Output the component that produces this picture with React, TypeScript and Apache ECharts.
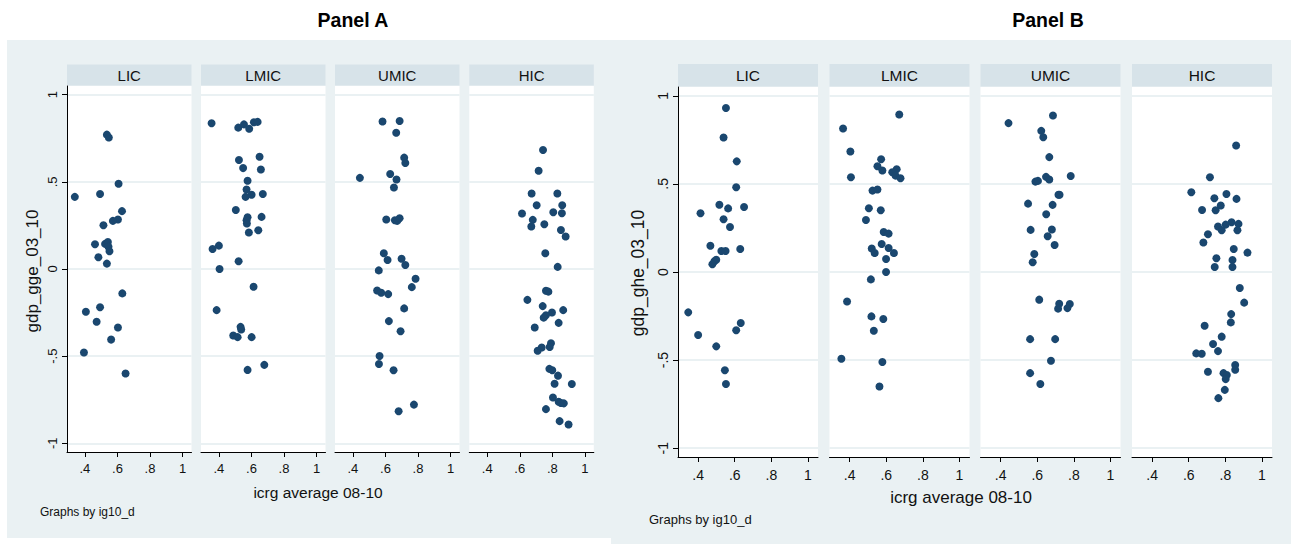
import React, { useEffect, useRef } from "react";
import * as echarts from "echarts";

// ---------- data ----------
const groups = ["LIC", "LMIC", "UMIC", "HIC"];
const xTicks = [0.4, 0.6, 0.8, 1];
const yTicks = [-1, -0.5, 0, 0.5, 1];
const panelTitles = ["Panel A", "Panel B"];
const yTitles = ["gdp_gge_03_10", "gdp_ghe_03_10"];
const xTitle = "icrg average 08-10";
const note = "Graphs by ig10_d";

// Panel A : gdp_gge_03_10 vs icrg average 08-10
const gge_LIC = [
  [0.535, 0.771], [0.547, 0.755], [0.607, 0.489], [0.338, 0.414], [0.493, 0.43],
  [0.628, 0.332], [0.603, 0.284], [0.572, 0.276], [0.514, 0.251], [0.462, 0.142],
  [0.524, 0.144], [0.541, 0.155], [0.545, 0.128], [0.551, 0.102], [0.483, 0.067],
  [0.535, 0.031], [0.63, -0.14], [0.493, -0.219], [0.406, -0.245], [0.472, -0.303],
  [0.603, -0.336], [0.561, -0.405], [0.394, -0.479], [0.65, -0.6],
];
const gge_LMIC = [
  [0.355, 0.836], [0.519, 0.811], [0.554, 0.83], [0.586, 0.805], [0.615, 0.842],
  [0.638, 0.844], [0.523, 0.625], [0.65, 0.644], [0.549, 0.579], [0.658, 0.571],
  [0.576, 0.506], [0.57, 0.456], [0.601, 0.426], [0.564, 0.414], [0.67, 0.43],
  [0.504, 0.339], [0.576, 0.297], [0.662, 0.299], [0.57, 0.28], [0.572, 0.261],
  [0.642, 0.222], [0.584, 0.209], [0.4, 0.134], [0.361, 0.115], [0.521, 0.044],
  [0.404, 0.0], [0.613, -0.102], [0.386, -0.236], [0.533, -0.332], [0.537, -0.347],
  [0.488, -0.382], [0.515, -0.391], [0.601, -0.391], [0.679, -0.55], [0.576, -0.579],
];
const gge_UMIC = [
  [0.582, 0.846], [0.687, 0.849], [0.666, 0.782], [0.715, 0.639], [0.722, 0.608],
  [0.443, 0.523], [0.629, 0.545], [0.668, 0.514], [0.652, 0.468], [0.605, 0.284],
  [0.658, 0.28], [0.672, 0.276], [0.687, 0.291], [0.59, 0.09], [0.613, 0.052],
  [0.699, 0.059], [0.722, 0.023], [0.559, -0.008], [0.785, -0.056], [0.762, -0.104],
  [0.549, -0.123], [0.574, -0.136], [0.617, -0.144], [0.715, -0.226], [0.621, -0.299],
  [0.693, -0.357], [0.564, -0.499], [0.56, -0.545], [0.65, -0.581], [0.775, -0.778],
  [0.681, -0.816],
];
const gge_HIC = [
  [0.743, 0.683], [0.716, 0.564], [0.673, 0.433], [0.831, 0.433], [0.704, 0.366],
  [0.861, 0.366], [0.614, 0.318], [0.806, 0.326], [0.859, 0.32], [0.68, 0.282],
  [0.671, 0.244], [0.751, 0.257], [0.853, 0.224], [0.882, 0.186], [0.757, 0.09],
  [0.833, 0.012], [0.761, -0.125], [0.776, -0.13], [0.647, -0.177], [0.741, -0.213],
  [0.867, -0.236], [0.798, -0.25], [0.761, -0.265], [0.747, -0.279], [0.839, -0.309],
  [0.692, -0.336], [0.792, -0.426], [0.784, -0.448], [0.735, -0.45], [0.71, -0.469],
  [0.782, -0.573], [0.8, -0.581], [0.835, -0.612], [0.814, -0.658], [0.92, -0.66],
  [0.804, -0.737], [0.839, -0.762], [0.853, -0.769], [0.871, -0.771], [0.761, -0.804],
  [0.845, -0.873], [0.9, -0.892],
];

// Panel B : gdp_ghe_03_10 vs icrg average 08-10
const ghe_LIC = [
  [0.552, 0.931], [0.539, 0.763], [0.611, 0.628], [0.608, 0.481], [0.516, 0.382],
  [0.564, 0.361], [0.651, 0.369], [0.413, 0.333], [0.539, 0.299], [0.574, 0.255],
  [0.467, 0.149], [0.527, 0.119], [0.55, 0.119], [0.63, 0.131], [0.499, 0.07],
  [0.489, 0.061], [0.478, 0.044], [0.346, -0.229], [0.633, -0.289], [0.608, -0.331],
  [0.4, -0.358], [0.499, -0.422], [0.546, -0.558], [0.552, -0.636],
];
const ghe_LMIC = [
  [0.671, 0.894], [0.364, 0.814], [0.404, 0.684], [0.572, 0.64], [0.552, 0.6],
  [0.579, 0.576], [0.657, 0.583], [0.633, 0.566], [0.651, 0.547], [0.678, 0.532],
  [0.407, 0.538], [0.525, 0.462], [0.552, 0.468], [0.505, 0.362], [0.57, 0.35],
  [0.489, 0.295], [0.586, 0.227], [0.613, 0.218], [0.575, 0.159], [0.521, 0.133],
  [0.537, 0.108], [0.613, 0.136], [0.642, 0.108], [0.599, 0.074], [0.599, 0.0],
  [0.516, -0.042], [0.386, -0.167], [0.519, -0.252], [0.584, -0.267], [0.532, -0.333],
  [0.355, -0.492], [0.579, -0.511], [0.563, -0.65],
];
const ghe_UMIC = [
  [0.686, 0.888], [0.443, 0.845], [0.622, 0.801], [0.633, 0.765], [0.666, 0.652],
  [0.783, 0.545], [0.648, 0.54], [0.666, 0.525], [0.59, 0.513], [0.604, 0.517],
  [0.716, 0.438], [0.722, 0.438], [0.55, 0.388], [0.684, 0.381], [0.649, 0.328],
  [0.564, 0.239], [0.68, 0.241], [0.657, 0.203], [0.695, 0.153], [0.584, 0.102],
  [0.575, 0.055], [0.611, -0.157], [0.72, -0.18], [0.714, -0.208], [0.778, -0.182],
  [0.765, -0.205], [0.561, -0.381], [0.698, -0.381], [0.675, -0.504], [0.561, -0.574],
  [0.617, -0.636],
];
const ghe_HIC = [
  [0.859, 0.718], [0.716, 0.538], [0.614, 0.453], [0.806, 0.443], [0.74, 0.419],
  [0.861, 0.415], [0.775, 0.377], [0.673, 0.352], [0.747, 0.35], [0.834, 0.282],
  [0.802, 0.269], [0.76, 0.258], [0.872, 0.273], [0.78, 0.237], [0.866, 0.237],
  [0.705, 0.214], [0.68, 0.167], [0.846, 0.131], [0.921, 0.11], [0.751, 0.078],
  [0.742, 0.028], [0.839, 0.068], [0.839, 0.028], [0.879, -0.091], [0.903, -0.174],
  [0.832, -0.239], [0.83, -0.286], [0.687, -0.305], [0.78, -0.367], [0.733, -0.409],
  [0.76, -0.449], [0.641, -0.462], [0.671, -0.464], [0.854, -0.528], [0.854, -0.555],
  [0.705, -0.566], [0.79, -0.574], [0.808, -0.585], [0.802, -0.608], [0.797, -0.669],
  [0.762, -0.716],
];

const panelData = [
  [gge_LIC, gge_LMIC, gge_UMIC, gge_HIC],
  [ghe_LIC, ghe_LMIC, ghe_UMIC, ghe_HIC],
];

// ---------- layout / style ----------
const FONT = '"Liberation Sans", Arial, Helvetica, sans-serif';
const BG = "#eaf1f3";
const STRIP = "#d7e3e9";
const GRIDLINE = "#e3ecef";
const MARKER = "#1a476f";
const X_MIN = 0.29;
const X_MAX = 1.055;
const Y_MIN = -1.05;
const Y_MAX = 1.05;

const layouts = [
  {
    lefts: [67, 201, 335, 469.3], width: 124.5, top: 86, height: 366,
    stripTop: 64.5, stripH: 21, tickFont: 13, stripFont: 15,
    xLabelMargin: 10, yLabelMargin: 8,
    xTitle: { x: 318, y: 492, size: 15.5 },
    yTitle: { x: 32, y: 271, size: 17 },
    note: { x: 40, y: 512, size: 12 },
    title: { x: 353, y: 20 },
    bg: { x: 7, y: 40, w: 604, h: 498 },
  },
  {
    lefts: [678, 829.5, 980.5, 1132], width: 140, top: 87, height: 370,
    stripTop: 64, stripH: 22.5, tickFont: 14, stripFont: 15.5,
    xLabelMargin: 11, yLabelMargin: 8,
    xTitle: { x: 961, y: 497, size: 17 },
    yTitle: { x: 638, y: 273, size: 17.5 },
    note: { x: 649, y: 519, size: 13 },
    title: { x: 1048, y: 20 },
    bg: { x: 611, y: 40, w: 680, h: 504 },
  },
];

const fmt = (v: number) => {
  if (Math.abs(v) < 1e-9) return "0";
  const s = String(Math.round(v * 10) / 10);
  return s.replace("0.", ".");
};

export default function App() {
  const ref = useRef<HTMLDivElement>(null);

  useEffect(() => {
    if (!ref.current) return;
    const chart = echarts.init(ref.current, undefined, { renderer: "svg" });

    const grids: any[] = [];
    const xAxes: any[] = [];
    const yAxes: any[] = [];
    const series: any[] = [];
    const graphics: any[] = [];

    layouts.forEach((L, p) => {
      graphics.push({
        type: "rect", z: -100, silent: true,
        shape: { x: L.bg.x, y: L.bg.y, width: L.bg.w, height: L.bg.h },
        style: { fill: BG },
      });
      graphics.push({
        type: "text", x: L.title.x, y: L.title.y, silent: true,
        style: {
          text: panelTitles[p], font: `bold 19.5px ${FONT}`, fill: "#000",
          align: "center", verticalAlign: "middle",
        },
      });
      graphics.push({
        type: "text", x: L.xTitle.x, y: L.xTitle.y, silent: true,
        style: {
          text: xTitle, font: `${L.xTitle.size}px ${FONT}`, fill: "#111",
          align: "center", verticalAlign: "middle",
        },
      });
      graphics.push({
        type: "text", x: L.yTitle.x, y: L.yTitle.y, rotation: Math.PI / 2, silent: true,
        style: {
          text: yTitles[p], font: `${L.yTitle.size}px ${FONT}`, fill: "#111",
          align: "center", verticalAlign: "middle",
        },
      });
      graphics.push({
        type: "text", x: L.note.x, y: L.note.y, silent: true,
        style: {
          text: note, font: `${L.note.size}px ${FONT}`, fill: "#111",
          align: "left", verticalAlign: "middle",
        },
      });

      groups.forEach((g, i) => {
        const k = p * 4 + i;
        const left = L.lefts[i];
        graphics.push({
          type: "rect", z: -50, silent: true,
          shape: { x: left, y: L.stripTop, width: L.width, height: L.stripH },
          style: { fill: STRIP },
        });
        graphics.push({
          type: "text", x: left + L.width / 2, y: L.stripTop + L.stripH / 2 + 0.5, silent: true,
          style: {
            text: g, font: `${L.stripFont}px ${FONT}`, fill: "#111",
            align: "center", verticalAlign: "middle",
          },
        });

        grids.push({
          left, top: L.top, width: L.width, height: L.height,
          show: true, backgroundColor: "#ffffff", borderWidth: 0,
          containLabel: false,
        });

        xAxes.push({
          type: "value", gridIndex: k, min: X_MIN, max: X_MAX,
          axisLine: { show: true, onZero: false, lineStyle: { color: "#000", width: 1 } },
          axisTick: { show: true, length: 5, customValues: xTicks, lineStyle: { color: "#000" } },
          axisLabel: {
            customValues: xTicks, formatter: fmt, fontSize: L.tickFont,
            fontFamily: FONT, color: "#111", margin: L.xLabelMargin,
          },
          splitLine: { show: false },
        });

        yAxes.push({
          type: "value", gridIndex: k, min: Y_MIN, max: Y_MAX,
          axisLine: { show: i === 0, onZero: false, lineStyle: { color: "#000", width: 1 } },
          axisTick: {
            show: i === 0, length: 5, customValues: yTicks, lineStyle: { color: "#000" },
          },
          axisLabel: {
            show: i === 0, customValues: yTicks, formatter: fmt, rotate: 90,
            fontSize: L.tickFont, fontFamily: FONT, color: "#111", margin: L.yLabelMargin,
          },
          splitLine: { show: true, lineStyle: { color: GRIDLINE, width: 1.5 } },
        });

        series.push({
          type: "scatter", xAxisIndex: k, yAxisIndex: k,
          symbol: "circle", symbolSize: 8,
          itemStyle: { color: MARKER, opacity: 1 },
          data: panelData[p][i],
        });
      });
    });

    chart.setOption({
      animation: false,
      backgroundColor: "#ffffff",
      grid: grids,
      xAxis: xAxes,
      yAxis: yAxes,
      series,
      graphic: { elements: graphics },
    });

    return () => chart.dispose();
  }, []);

  return (
    <div
      ref={ref}
      style={{ position: "fixed", left: 0, top: 0, width: 1291, height: 544 }}
    />
  );
}
